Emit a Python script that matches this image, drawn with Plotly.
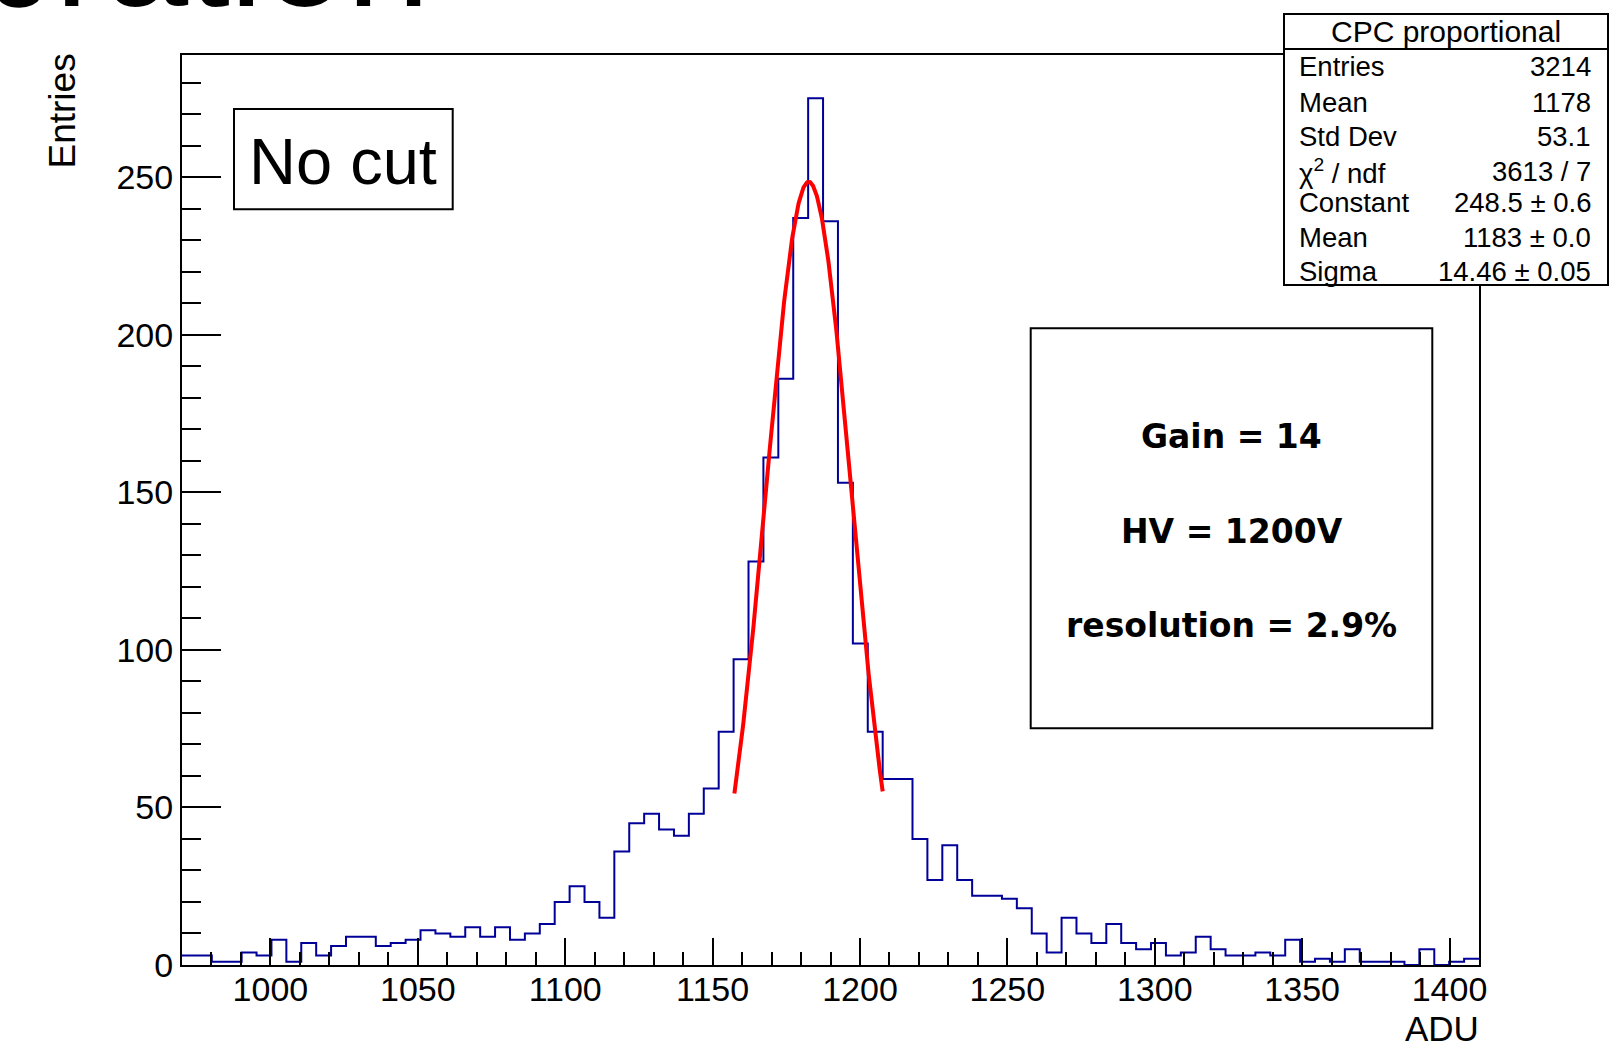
import numpy as np
import plotly.graph_objects as go

# ---------------- data ----------------
x_lo, x_hi, n_bins = 970.0, 1410.0, 87
counts = [3, 3, 1, 1, 4, 3, 8, 1, 7, 3,
          6, 9, 9, 6, 7, 8, 11, 10, 9, 12,
          9, 12, 8, 10, 13, 20, 25, 20, 15, 36,
          45, 48, 43, 41, 48, 56, 74, 97, 128, 161,
          186, 237, 275, 236, 153, 102, 74, 59, 59, 40,
          27, 38, 27, 22, 22, 21, 18, 10, 4, 15,
          10, 7, 13, 7, 5, 7, 3, 4, 9, 5,
          3, 3, 4, 3, 8, 1, 2, 1, 5, 1,
          1, 1, 0, 5, 0, 1, 2]
fit_const, fit_mean, fit_sigma = 248.5, 1182.6, 14.46
fit_lo, fit_hi = 1157.4, 1207.7
y_max = 288.75

stats_title = "CPC proportional"
stats_labels = ["Entries", "Mean", "Std Dev", "χ<sup>2</sup> / ndf", "Constant", "Mean", "Sigma"]
stats_values = ["3214", "1178", "53.1", "3613 / 7", "248.5 ± 0.6", "1183 ± 0.0", "14.46 ± 0.05"]
info_lines = ["Gain = 14", "HV = 1200V", "resolution = 2.9%"]
label_text = "No cut"
x_title, y_title = "ADU", "Entries"
page_title = "Calibration"

# ---------------- geometry ----------------
W, H = 1624, 1044
L, R, T, B = 182, 1479, 55, 965
PW, PH = R - L, B - T

def px(xp):
    return (xp - L) / PW

def py(yp):
    return (B - yp) / PH

edges = [x_lo + k * (x_hi - x_lo) / n_bins for k in range(n_bins + 1)]
step_y = counts + [counts[-1]]

fx = np.linspace(fit_lo, fit_hi, 300)
fy = fit_const * np.exp(-0.5 * ((fx - fit_mean) / fit_sigma) ** 2)

FONT = "Liberation Sans, Arial, Helvetica, sans-serif"

fig = go.Figure()
fig.add_trace(go.Scatter(x=edges, y=step_y, mode="lines", line_shape="hv",
                         line=dict(color="#000099", width=2), hoverinfo="skip"))
fig.add_trace(go.Scatter(x=fx, y=fy, mode="lines",
                         line=dict(color="#ff0000", width=4), hoverinfo="skip"))

fig.update_layout(
    width=W, height=H, autosize=False,
    margin=dict(l=L, r=W - R, t=T, b=H - B, pad=0),
    paper_bgcolor="white", plot_bgcolor="white",
    showlegend=False,
    font=dict(family=FONT, color="black"),
    xaxis=dict(range=[x_lo, x_hi], showgrid=False, zeroline=False,
               showline=True, linecolor="black", linewidth=2, mirror=True,
               ticks="inside", ticklen=27, tickwidth=2, tickcolor="black",
               tick0=1000, dtick=50, tickfont=dict(size=34, family=FONT),
               ticklabelstandoff=-7,
               minor=dict(ticks="inside", ticklen=13, tickwidth=2, tickcolor="black",
                          dtick=10, tick0=1000, showgrid=False)),
    yaxis=dict(range=[0, y_max], showgrid=False, zeroline=False,
               showline=True, linecolor="black", linewidth=2, mirror=True,
               ticks="inside", ticklen=39, tickwidth=2, tickcolor="black",
               tick0=0, dtick=50, tickfont=dict(size=34, family=FONT),
               minor=dict(ticks="inside", ticklen=19, tickwidth=2, tickcolor="black",
                          dtick=10, tick0=0, showgrid=False)),
)

shapes = []
# No cut box
shapes.append(dict(type="rect", xref="paper", yref="paper",
                   x0=px(234), x1=px(452.7), y0=py(209.3), y1=py(109),
                   line=dict(color="black", width=2), fillcolor="white", layer="above"))
# info box
shapes.append(dict(type="rect", xref="paper", yref="paper",
                   x0=px(1030.7), x1=px(1432.3), y0=py(728.3), y1=py(328.3),
                   line=dict(color="black", width=2), fillcolor="white", layer="above"))
# stats box
shapes.append(dict(type="rect", xref="paper", yref="paper",
                   x0=px(1284), x1=px(1608), y0=py(285), y1=py(14),
                   line=dict(color="black", width=2), fillcolor="white", layer="above"))
shapes.append(dict(type="line", xref="paper", yref="paper",
                   x0=px(1284), x1=px(1608), y0=py(49), y1=py(49),
                   line=dict(color="black", width=2), layer="above"))
fig.update_layout(shapes=shapes)

ann = []
ann.append(dict(text=label_text, xref="paper", yref="paper", x=px(343), y=py(161),
                xanchor="center", yanchor="middle", showarrow=False,
                font=dict(size=65, family=FONT, color="black")))
info_y = [437, 531, 625]
for t, yy in zip(info_lines, info_y):
    ann.append(dict(text=t, xref="paper", yref="paper", x=px(1231.5), y=py(yy),
                    xanchor="center", yanchor="middle", showarrow=False,
                    font=dict(size=33, family="DejaVu Sans, sans-serif", color="black",
                              weight="bold")))
ann.append(dict(text=stats_title, xref="paper", yref="paper", x=px(1446), y=py(31.5),
                xanchor="center", yanchor="middle", showarrow=False,
                font=dict(size=30, family=FONT, color="black")))
row_y = [67, 102, 136.5, 171, 203, 238, 271]
for lab, val, yy in zip(stats_labels, stats_values, row_y):
    ann.append(dict(text=lab, xref="paper", yref="paper", x=px(1297), y=py(yy),
                    xanchor="left", yanchor="middle", showarrow=False,
                    font=dict(size=27.5, family=FONT, color="black")))
    ann.append(dict(text=val, xref="paper", yref="paper", x=px(1593), y=py(yy),
                    xanchor="right", yanchor="middle", showarrow=False,
                    font=dict(size=27.5, family=FONT, color="black")))
ann.append(dict(text=y_title, xref="paper", yref="paper", x=px(62), y=py(52),
                xanchor="center", yanchor="top", textangle=-90, showarrow=False,
                font=dict(size=37, family=FONT, color="black")))
ann.append(dict(text=x_title, xref="paper", yref="paper", x=px(1481), y=py(1007),
                xanchor="right", yanchor="top", showarrow=False,
                font=dict(size=35, family=FONT, color="black")))
ann.append(dict(text=page_title, xref="paper", yref="paper", x=px(432), y=py(40),
                xanchor="right", yanchor="bottom", showarrow=False,
                font=dict(size=150, family=FONT, color="black")))
fig.update_layout(annotations=ann)

fig.write_html("out.html")
